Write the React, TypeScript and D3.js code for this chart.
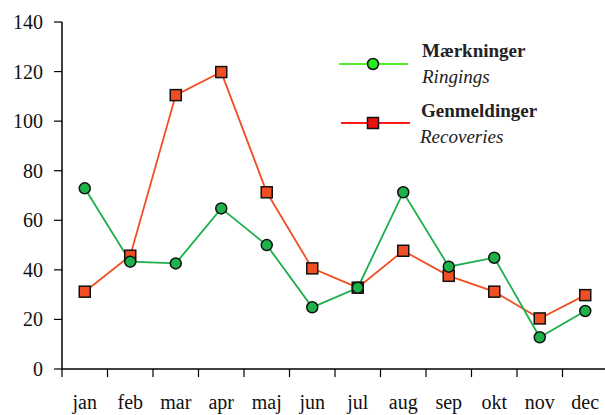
import React from "react";
import * as d3 from "d3";

const months = ["jan", "feb", "mar", "apr", "maj", "jun", "jul", "aug", "sep", "okt", "nov", "dec"];
const ringings = [72.9, 43.3, 42.6, 64.8, 50.0, 24.9, 32.8, 71.3, 41.3, 44.9, 12.8, 23.4];
const recoveries = [31.2, 45.7, 110.5, 119.8, 71.3, 40.6, 32.8, 47.7, 37.6, 31.2, 20.4, 29.8];
const yTicks = [0, 20, 40, 60, 80, 100, 120, 140];

const width = 605;
const height = 415;
const txt: React.CSSProperties = { fontFamily: "'Liberation Serif', 'Times New Roman', serif" };

const App = () => {
  const x = d3.scaleBand<string>().domain(months).range([62, 608]);
  const y = d3.scaleLinear().domain([0, 140]).range([369, 22]);
  const cx = (i: number) => (x(months[i]) as number) + x.bandwidth() / 2;

  const line = d3
    .line<number>()
    .x((_, i) => cx(i))
    .y((d) => y(d));

  return (
    <svg
      width={width}
      height={height}
      style={{ position: "absolute", left: 0, top: 0, background: "#fff" }}
    >
      {/* y axis */}
      <line x1={62} x2={62} y1={y(140)} y2={y(0)} stroke="#000" strokeWidth={1.5} />
      {yTicks.map((t) => (
        <g key={t}>
          <line x1={54} x2={62} y1={y(t)} y2={y(t)} stroke="#000" strokeWidth={1.2} />
          <text x={43} y={y(t)} dy="0.35em" textAnchor="end" fontSize={20} fill="#111" style={txt}>
            {t}
          </text>
        </g>
      ))}
      {/* x axis */}
      <line x1={62} x2={width} y1={y(0)} y2={y(0)} stroke="#000" strokeWidth={1.5} />
      {months.map((m) => (
        <g key={m}>
          <line
            x1={x(m) as number}
            x2={x(m) as number}
            y1={y(0)}
            y2={y(0) + 8}
            stroke="#000"
            strokeWidth={1.2}
          />
          <text
            x={(x(m) as number) + x.bandwidth() / 2}
            y={409}
            textAnchor="middle"
            fontSize={20}
            fill="#111"
            style={txt}
          >
            {m}
          </text>
        </g>
      ))}

      {/* series */}
      <path d={line(recoveries) || ""} fill="none" stroke="#ef4f23" strokeWidth={1.8} />
      <path d={line(ringings) || ""} fill="none" stroke="#1aaf4b" strokeWidth={1.8} />
      {recoveries.map((v, i) => (
        <rect
          key={"r" + i}
          x={cx(i) - 5.5}
          y={y(v) - 5.5}
          width={11}
          height={11}
          fill="#f04e23"
          stroke="#111"
          strokeWidth={1.5}
        />
      ))}
      {ringings.map((v, i) => (
        <circle key={"g" + i} cx={cx(i)} cy={y(v)} r={5.5} fill="#1db24a" stroke="#111" strokeWidth={1.5} />
      ))}

      {/* legend */}
      <line x1={339} x2={408} y1={64} y2={64} stroke="#55ee33" strokeWidth={2} />
      <circle cx={373} cy={64} r={5.5} fill="#22ee22" stroke="#111" strokeWidth={1.5} />
      <text x={422} y={57} fontSize={19} fontWeight="bold" fill="#222" style={txt}>
        Mærkninger
      </text>
      <text x={422} y={83} fontSize={19} fontStyle="italic" fill="#222" style={txt}>
        Ringings
      </text>
      <line x1={341} x2={410} y1={123} y2={123} stroke="#ff1a1a" strokeWidth={2} />
      <rect x={367.5} y={117.5} width={11} height={11} fill="#ee1111" stroke="#111" strokeWidth={1.5} />
      <text x={421} y={117} fontSize={19} fontWeight="bold" fill="#222" style={txt}>
        Genmeldinger
      </text>
      <text x={420} y={143} fontSize={19} fontStyle="italic" fill="#222" style={txt}>
        Recoveries
      </text>
    </svg>
  );
};

export default App;
